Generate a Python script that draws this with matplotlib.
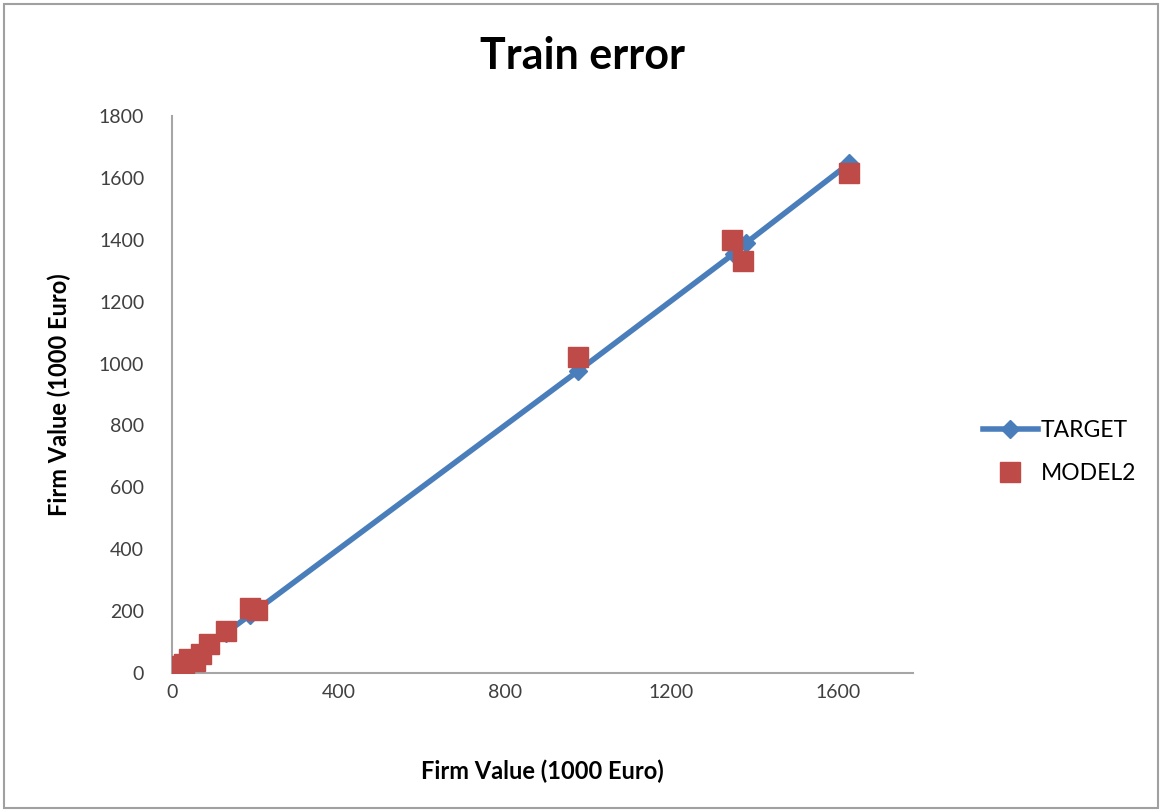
import matplotlib
matplotlib.use("Agg")
import matplotlib.pyplot as plt
from matplotlib.patches import Rectangle

# Data
target_x = [3, 10, 18, 28, 40, 55, 70, 88, 130, 188, 205, 975, 1350, 1380, 1628]
target_y = [3, 10, 18, 28, 40, 55, 70, 88, 130, 188, 205, 975, 1355, 1390, 1647]
model_x = [3, 10, 18, 28, 40, 55, 70, 88, 130, 188, 205, 975, 1346, 1373, 1628]
model_y = [13, 22, 18, 30, 45, 40, 60, 95, 135, 210, 205, 1022, 1398, 1333, 1615]

x_ticks = [0, 400, 800, 1200, 1600]
y_ticks = [0, 200, 400, 600, 800, 1000, 1200, 1400, 1600, 1800]

plt.rcParams['font.family'] = ['Lato', 'DejaVu Sans']

fig = plt.figure(figsize=(11.62, 8.11), dpi=100)
ax = fig.add_axes([172/1162, 1-673/811, (913-172)/1162, (673-116)/811])

blue = '#4A7EBB'
red = '#BE4B48'

ax.plot(target_x, target_y, color=blue, lw=4, marker='D', markersize=9,
        markerfacecolor=blue, markeredgecolor=blue, label='TARGET', zorder=2)
ax.plot(model_x, model_y, linestyle='none', marker='s', markersize=15,
        markerfacecolor=red, markeredgecolor=red, label='MODEL2', zorder=3)

ax.set_xlim(0, 1781)
ax.set_ylim(0, 1800)
ax.set_xticks(x_ticks)
ax.set_yticks(y_ticks)
ax.tick_params(length=0, labelsize=14, colors='#404040')
ax.tick_params(axis='x', pad=8)
ax.tick_params(axis='y', pad=20)
for s in ['top', 'right']:
    ax.spines[s].set_visible(False)
for s in ['left', 'bottom']:
    ax.spines[s].set_color('#A6A6A6')
    ax.spines[s].set_linewidth(1.5)

ax.set_xlabel('Firm Value (1000 Euro)', fontsize=17, fontweight='bold', labelpad=42)
ax.set_ylabel('Firm Value (1000 Euro)', fontsize=17, fontweight='bold', labelpad=20)
fig.text(583/1162, 1-56/811, 'Train error', fontsize=31, fontweight='bold',
         ha='center', va='center')

fig.legend(loc='center left', bbox_to_anchor=(962/1162, 1-452/811), frameon=False,
           fontsize=16.5, handlelength=2.4, labelspacing=1.0, handletextpad=0.15)

fig.patches.append(Rectangle((4/1162, 3/811), 1154/1162, 804/811, transform=fig.transFigure,
                             fill=False, edgecolor='#A0A0A0', lw=1.5))

fig.savefig('out.png', dpi=100)
